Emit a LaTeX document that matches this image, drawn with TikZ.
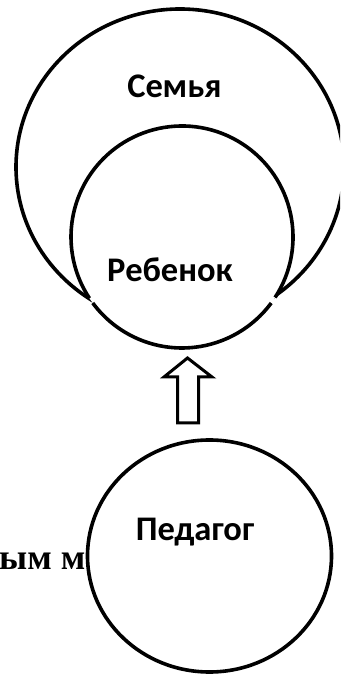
\documentclass[tikz,border=0pt]{standalone}
\usepackage{fontspec}
\setmainfont{Liberation Serif}
\newfontfamily\labelfont{Carlito}
\usetikzlibrary{positioning, calc}
\tikzset{
	ring/.append style={
		line width=3.6pt,
	},
	labe/.append style={
		inner sep=0pt,
		anchor=base,
		font={\labelfont\bfseries\fontsize{34.5}{40}\selectfont}
	},
	blockarrow/.append style={
		line width=3pt,
		line join=miter,
		fill=white,
	},
}

\begin{document}
\begin{tikzpicture}[x=1pt, y=1pt]
\useasboundingbox (0,0) rectangle (340,674);
\clip (0,0) rectangle (340,674);

% text running behind the lower circle
\node(behind)[anchor=base west, inner sep=0pt, font={\bfseries\fontsize{36}{40}\selectfont}] at (-1,104) {ым м};

% family and child
\draw[ring] (180,507) ellipse [x radius=164, y radius=158];
\fill[white] (182,437) circle [radius=111];
\draw[ring] (182,437) ++(-33:111) arc[start angle=-33, end angle=213.5, radius=111];
\draw[ring] (182,437) ++(216.5:111) arc[start angle=216.5, end angle=323.5, radius=111];
\coordinate(childbottom) at (182,326);

\node(family)[labe] at (174.5,576) {Семья};
\node(child)[labe] at (170,392) {Ребенок};

% teacher
\draw[ring, fill=white] (209.5,118) ellipse [x radius=122, y radius=116];
\coordinate(teachertop) at (209.5,234);
\node(teacher)[labe] at (195,133) {Педагог};

% arrow from teacher up to child
\coordinate(tip) at (187.5,316);
\draw[blockarrow] (tip) -- ++(-23.5,-19) -- ++(13.5,0) -- ++(0,-46) -- ++(21,0) -- ++(0,46) -- ++(13.5,0) -- cycle;

\end{tikzpicture}
\end{document}
